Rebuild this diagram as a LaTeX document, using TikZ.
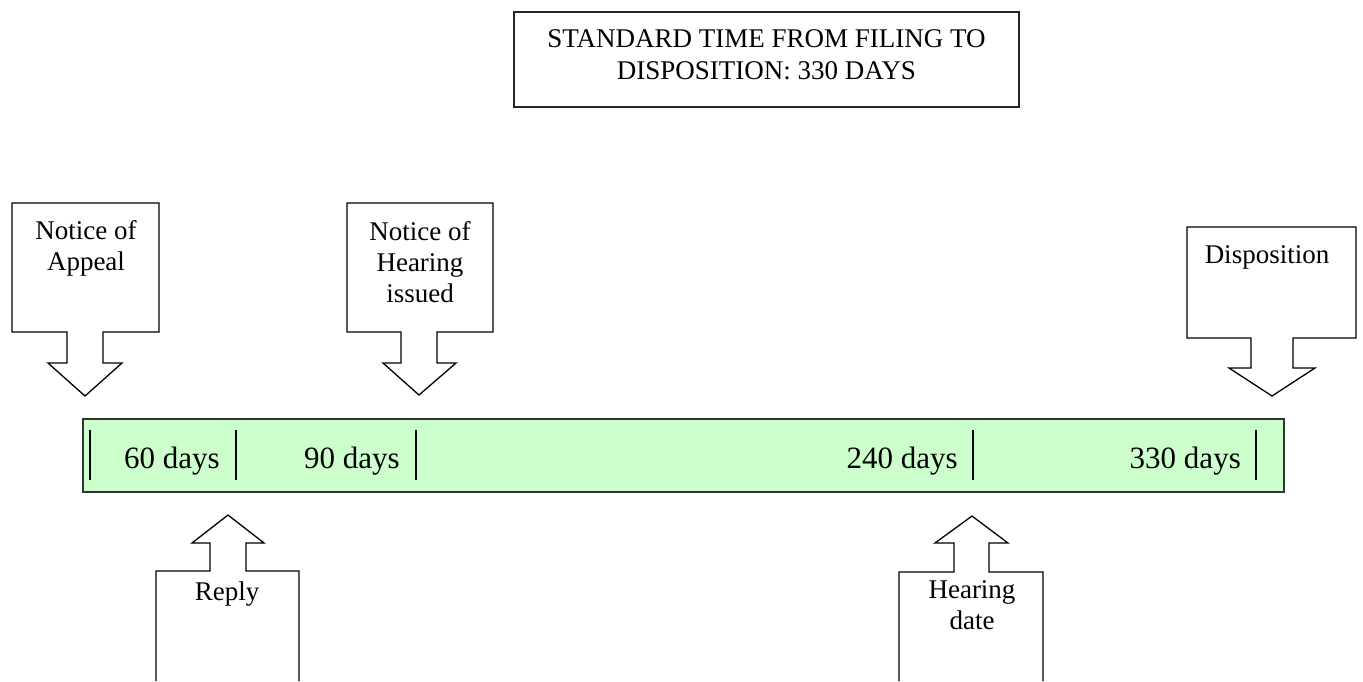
\documentclass[tikz,border=0pt]{standalone}
\usepackage{fontspec}
\setmainfont{Liberation Serif}
\usepackage{tikz}
\definecolor{barfill}{RGB}{204,255,204}

\begin{document}
\begin{tikzpicture}[x=1pt,y=-1pt,
  callout/.style={draw=black,line width=1.3pt,line join=miter},
  lbl/.style={inner sep=0pt,anchor=north,align=center,font=\fontsize{27}{31}\selectfont},
  days/.style={inner sep=0pt,anchor=base east,font=\fontsize{31}{35}\selectfont},
  tick/.style={line width=2pt}]
\useasboundingbox (0,0) rectangle (1363,681);
\draw[line width=1.6pt,draw=black!85] (514,12) rectangle (1019,107);
\node[lbl,font=\fontsize{27}{32}\selectfont] (title) at (766.5,29) {STANDARD TIME FROM FILING TO\\DISPOSITION: 330 DAYS};
\draw[callout] (12,203) -- (159,203) -- (159,332) -- (103,332) -- (103,363) -- (122,363) -- (85,396) -- (48,363) -- (67,363) -- (67,332) -- (12,332) -- cycle;
\node[lbl] (appeal) at (86,220) {Notice of\\Appeal};
\draw[callout] (347,203) -- (493,203) -- (493,332) -- (437,332) -- (437,363) -- (456,363) -- (419,395) -- (383,363) -- (401,363) -- (401,332) -- (347,332) -- cycle;
\node[lbl] (issued) at (420,221) {Notice of\\Hearing\\issued};
\draw[callout] (1187,227) -- (1356,227) -- (1356,338) -- (1293,338) -- (1293,368) -- (1315,368) -- (1272,396) -- (1229,368) -- (1251,368) -- (1251,338) -- (1187,338) -- cycle;
\node[lbl] (disp) at (1267,245) {Disposition};
\draw[line width=1.6pt,draw=black!80,fill=barfill] (83,419) rectangle (1284,492);
\draw[tick] (90,430) -- (90,480);
\draw[tick] (236,430) -- (236,480);
\draw[tick] (416,430) -- (416,480);
\draw[tick] (973,430) -- (973,480);
\draw[tick] (1256,430) -- (1256,480);
\node[days] (d60) at (220,468) {60 days};
\node[days] (d90) at (400,468) {90 days};
\node[days] (d240) at (958,468) {240 days};
\node[days] (d330) at (1241,468) {330 days};
\draw[callout] (156,681) -- (156,571) -- (210,571) -- (210,543) -- (192,543) -- (228,515) -- (264,543) -- (246,543) -- (246,571) -- (299,571) -- (299,681);
\node[lbl] (reply) at (227,582) {Reply};
\draw[callout] (899,681) -- (899,572) -- (954,572) -- (954,543) -- (935,543) -- (972,516) -- (1008,543) -- (989,543) -- (989,572) -- (1043,572) -- (1043,681);
\node[lbl] (hdate) at (972,580) {Hearing\\date};
\end{tikzpicture}
\end{document}
